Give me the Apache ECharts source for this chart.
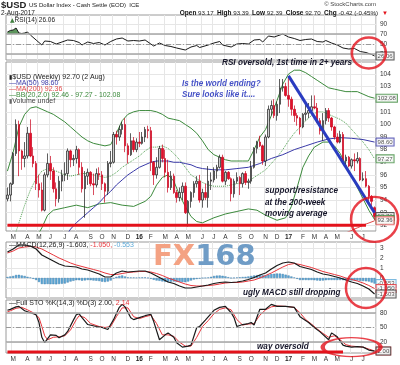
<!DOCTYPE html>
<html><head><meta charset="utf-8">
<script src="https://cdn.jsdelivr.net/npm/echarts@6/dist/echarts.min.js"></script>
<style>html,body{margin:0;padding:0;background:#fff}#c{width:400px;height:365px}</style>
</head><body><div id="c"></div>
<script>
// ---------- categories (weekly, Monday of each week) ----------
const categories = [];
(function(){ const s = Date.UTC(2015,1,16); for (let i=0;i<129;i++){ categories.push(new Date(s + i*7*86400000).toISOString().slice(0,10)); } })();

// ---------- weekly OHLC ($USD) ----------
const opens = [94.1,94.4,95.3,97.7,100.0,97.9,97.3,97.5,99.3,97.5,
96.9,95.3,94.8,93.2,96.0,96.9,96.3,94.9,94.1,95.5,
96.0,96.1,97.9,97.2,97.3,98.0,96.6,94.9,95.9,96.2,
95.3,95.2,96.1,96.0,95.3,94.7,96.9,97.0,99.2,99.0,
99.6,100.0,98.3,97.6,98.7,98.0,98.6,98.5,99.0,99.6,
99.5,97.0,96.0,96.6,98.1,97.3,96.2,95.0,95.9,94.6,
94.2,94.6,95.1,93.0,93.9,94.6,95.3,95.5,94.0,94.6,
94.2,95.5,95.6,96.3,96.6,97.4,95.5,96.2,95.7,94.5,
95.5,95.8,95.3,96.1,95.4,95.5,96.6,98.1,98.6,98.3,
97.1,99.0,101.2,101.5,100.7,101.6,102.9,103.0,102.3,102.0,
101.2,100.7,100.5,99.8,100.8,100.9,101.1,101.4,101.3,100.3,
99.5,100.3,101.1,100.5,99.8,99.0,98.6,99.2,97.1,97.4,
96.7,97.2,97.1,97.3,95.6,95.7,95.1,94.3,93.4];
const highs = [95.0,95.4,97.8,100.4,100.3,98.0,98.6,99.8,100.4,98.2,
97.1,96.0,95.4,96.2,97.7,97.5,96.6,95.4,95.9,96.4,
97.0,98.1,98.0,97.6,98.3,98.1,97.0,96.3,96.5,96.3,
96.1,96.5,96.6,96.3,95.4,97.1,97.9,99.4,99.5,99.9,
100.2,100.5,98.5,99.3,99.0,98.9,99.4,99.4,99.8,99.9,
99.8,97.1,97.4,98.3,98.4,98.0,97.2,96.3,96.1,94.8,
95.0,95.4,95.4,94.0,94.7,95.5,95.9,96.0,94.9,95.3,
96.7,96.2,96.6,96.8,97.6,97.6,96.3,96.3,95.8,95.7,
96.2,95.9,96.2,96.3,95.7,97.1,98.2,98.7,99.1,98.4,
99.2,101.5,101.9,102.0,101.8,103.6,103.6,103.3,103.8,102.2,
101.5,100.9,100.6,100.9,101.8,101.7,102.3,102.3,101.7,100.5,
100.9,101.3,101.3,100.6,99.9,99.3,99.5,99.4,97.6,97.5,
97.3,97.7,97.8,97.4,96.2,96.3,95.2,94.4,93.5];
const lows = [93.9,93.9,95.2,97.5,95.9,96.4,96.6,97.3,97.4,96.6,
94.8,94.2,93.1,93.1,95.8,95.6,94.6,93.5,93.8,94.7,
95.5,95.6,96.6,96.7,96.9,96.0,94.6,92.6,95.2,95.1,
94.4,95.0,95.6,94.8,93.8,94.4,96.6,96.9,98.4,98.7,
99.2,97.8,96.9,97.5,97.8,97.8,98.2,98.4,98.6,98.9,
96.3,95.2,95.7,96.5,97.0,95.8,94.6,94.8,94.5,93.8,
93.9,94.0,92.9,91.9,93.4,94.2,95.0,93.8,93.4,94.0,
93.4,94.8,95.4,95.7,96.5,95.4,95.2,95.6,93.9,94.2,
95.3,94.4,95.0,95.2,94.9,95.3,96.5,97.7,98.2,96.8,
96.7,98.9,100.7,100.5,100.3,100.9,102.6,102.2,101.4,100.7,
100.2,99.9,99.2,99.7,100.3,100.5,100.9,101.2,100.1,99.2,
98.7,100.0,100.2,99.5,98.8,98.5,98.5,96.9,96.8,96.6,
96.5,96.3,96.9,95.5,95.5,95.0,93.8,93.4,92.4];
const closes = [94.4,95.3,97.7,100.0,97.9,97.3,97.5,99.3,97.5,96.9,
95.3,94.8,93.2,96.0,96.9,96.3,94.9,94.1,95.5,96.0,
96.1,97.9,97.2,97.3,98.0,96.6,94.9,95.9,96.2,95.3,
95.2,96.1,96.0,95.3,94.7,96.9,97.0,99.2,99.0,99.6,
100.0,98.3,97.6,98.7,98.0,98.6,98.5,99.0,99.6,99.5,
97.0,96.0,96.6,98.1,97.3,96.2,95.0,95.9,94.6,94.2,
94.6,95.1,93.0,93.9,94.6,95.3,95.5,94.0,94.6,94.2,
95.5,95.6,96.3,96.6,97.4,95.5,96.2,95.7,94.5,95.5,
95.8,95.3,96.1,95.4,95.5,96.6,98.1,98.6,98.3,97.1,
99.0,101.2,101.5,100.7,101.6,102.9,103.0,102.3,102.0,101.2,
100.7,100.5,99.8,100.8,100.9,101.1,101.4,101.3,100.3,99.5,
100.3,101.1,100.5,99.8,99.0,98.6,99.2,97.1,97.4,96.7,
97.2,97.1,97.3,95.6,95.7,95.1,94.3,93.9,92.70];

// ---------- overlays: [week index, value] ----------
const bbUpper = [[0,96.3],[2,97.8],[4,99.8],[6,100.8],[8,101.3],[10,101.4],[12,101.2],[14,101.0],[16,100.8],[18,100.5],[20,100.2],[22,99.8],[24,99.4],[26,99.0],[28,98.7],[30,98.5],[32,98.4],[34,98.3],[36,98.4],[38,99.3],[40,100.3],[42,100.8],[44,101.0],[46,101.1],[48,101.1],[50,101.1],[52,101.0],[54,100.8],[56,100.5],[58,100.4],[60,100.3],[62,100.0],[64,99.7],[66,99.3],[68,98.7],[70,98.0],[72,97.6],[74,97.4],[76,97.2],[78,97.1],[80,97.1],[82,97.1],[84,97.1],[86,98.0],[88,99.0],[90,99.6],[92,100.7],[94,101.9],[96,103.2],[98,104.0],[100,104.3],[102,104.3],[104,104.1],[106,103.8],[108,103.5],[110,103.2],[112,102.9],[114,102.8],[116,102.7],[118,102.6],[120,102.6],[122,102.6],[124,102.4],[126,102.2],[128,102.08]];
const bbMiddle = [[0,89.5],[2,90.8],[4,92.2],[6,93.6],[8,94.8],[10,95.7],[12,96.3],[14,96.5],[16,96.4],[18,96.2],[20,96.0],[22,95.9],[24,96.0],[26,96.1],[28,96.1],[30,96.0],[32,95.9],[34,95.8],[36,95.9],[38,96.2],[40,96.6],[42,96.9],[44,97.2],[46,97.5],[48,97.9],[50,98.2],[52,98.2],[54,98.3],[56,98.1],[58,97.7],[60,97.2],[62,96.6],[64,96.0],[66,95.7],[68,95.4],[70,95.2],[72,95.1],[74,95.1],[76,95.1],[78,95.2],[80,95.3],[82,95.4],[84,95.5],[86,95.8],[88,96.1],[90,96.4],[92,96.9],[94,97.4],[96,98.0],[98,98.7],[100,99.3],[102,99.8],[104,100.3],[106,100.7],[108,101.0],[110,101.0],[112,100.8],[114,100.6],[116,100.4],[118,100.1],[120,99.6],[122,99.1],[124,98.6],[126,98.0],[128,97.27]];
const bbLower = [[0,86.3],[4,87.6],[8,89.9],[10,91.0],[12,91.8],[14,92.8],[16,93.2],[18,93.3],[20,93.4],[24,93.6],[28,93.4],[32,93.7],[36,93.8],[40,93.6],[44,93.5],[48,93.9],[50,94.3],[52,95.2],[54,95.8],[56,96.0],[58,95.5],[60,94.4],[62,93.5],[64,92.7],[66,92.3],[68,92.2],[72,92.6],[76,92.9],[80,93.1],[84,93.3],[87,93.2],[90,92.8],[94,92.4],[97,92.6],[99,93.5],[101,95.0],[103,96.6],[105,97.5],[107,98.2],[110,98.6],[112,98.6],[114,98.3],[116,97.7],[118,96.8],[120,95.9],[122,95.0],[124,94.1],[126,93.2],[128,92.46]];
const ma50 = [[18,90.5],[20,91.0],[22,91.7],[24,92.2],[26,92.6],[28,93.0],[30,93.4],[32,93.8],[34,94.3],[36,94.7],[38,95.2],[40,95.6],[42,96.0],[44,96.3],[46,96.6],[48,96.8],[50,97.0],[52,97.1],[54,97.1],[56,97.1],[58,97.0],[60,97.0],[62,96.9],[64,96.8],[66,96.6],[68,96.5],[72,96.4],[76,96.4],[80,96.5],[84,96.6],[88,96.9],[92,97.3],[96,97.6],[100,98.0],[104,98.3],[108,98.6],[112,98.85],[116,98.95],[120,98.9],[124,98.8],[128,98.60]];
const ma200 = [[110,90.6],[114,91.0],[118,91.4],[122,91.8],[125,92.1],[128,92.36]];
const trendLine = [[98,103.85],[128,93.0]];
const supportLevel = [[0,92.0],[125,92.0]];

// ---------- RSI(14) ----------
const rsi = [[0,74],[1,77],[2,78],[3,82],[4,72],[5,71],[6,72],[7,74],[8,68],[10,58],[12,48],[13,56],[15,55],[17,50],[19,54],[21,58],[23,57],[25,53],[26,48],[28,54],[30,51],[32,53],[34,48],[36,55],[38,60],[40,62],[42,56],[44,57],[46,56],[48,58],[50,50],[51,46],[53,52],[55,47],[57,45],[59,42],[62,38],[64,44],[66,47],[67,43],[70,48],[72,52],[74,55],[75,48],[78,44],[80,50],[82,51],[84,50],[86,58],[88,59],[89,54],[91,66],[93,64],[96,70],[98,64],[100,61],[102,57],[104,59],[106,60],[108,55],[110,54],[111,57],[113,52],[115,48],[117,42],[119,40],[121,41],[123,35],[125,33],[127,29],[128,26.06]];
const rsiOverbought = [[0,74],[1,77],[2,78],[3,82],[4,72],[5,71],[6,72],[7,74]];

// ---------- MACD(12,26,9) ----------
const macdLine = [[0,2.6],[2,2.9],[4,3.3],[6,3.3],[8,3.2],[10,2.9],[12,2.3],[14,2.0],[16,1.7],[18,1.4],[20,1.2],[22,1.15],[24,1.1],[26,0.9],[28,0.8],[30,0.6],[32,0.4],[34,0.1],[36,0.1],[38,0.5],[40,0.7],[42,0.6],[44,0.65],[46,0.7],[48,0.7],[50,0.5],[52,0.2],[54,-0.1],[56,-0.4],[58,-0.55],[60,-0.8],[62,-1.0],[64,-1.0],[66,-0.9],[68,-0.8],[70,-0.7],[72,-0.55],[74,-0.45],[76,-0.4],[78,-0.45],[80,-0.4],[82,-0.3],[84,-0.15],[86,0.05],[88,0.3],[90,0.5],[92,0.9],[94,1.25],[96,1.5],[98,1.6],[100,1.5],[102,1.15],[104,1.0],[106,0.85],[108,0.6],[110,0.4],[112,0.3],[114,0.15],[116,0.0],[118,-0.2],[120,-0.4],[122,-0.55],[124,-0.8],[126,-1.1],[128,-1.603]];
const signalLine = [[0,2.5],[2,2.7],[4,3.0],[6,3.1],[8,3.15],[10,3.1],[12,2.9],[14,2.6],[16,2.3],[18,2.0],[20,1.75],[22,1.5],[24,1.3],[26,1.15],[28,1.0],[30,0.85],[32,0.7],[34,0.5],[36,0.35],[38,0.35],[40,0.45],[42,0.55],[44,0.6],[46,0.65],[48,0.65],[50,0.6],[52,0.45],[54,0.25],[56,0.0],[58,-0.2],[60,-0.4],[62,-0.6],[64,-0.75],[66,-0.8],[68,-0.8],[70,-0.75],[72,-0.7],[74,-0.6],[76,-0.5],[78,-0.45],[80,-0.45],[82,-0.4],[84,-0.3],[86,-0.2],[88,0.0],[90,0.25],[92,0.5],[94,0.8],[96,1.1],[98,1.35],[100,1.45],[102,1.35],[104,1.2],[106,1.05],[108,0.85],[110,0.65],[112,0.5],[114,0.35],[116,0.2],[118,0.0],[120,-0.15],[122,-0.3],[124,-0.5],[126,-0.75],[128,-1.05]];
const macdHist = [0.10,0.15,0.20,0.30,0.32,0.25,0.20,0.12,0.05,-0.08,
-0.20,-0.40,-0.60,-0.62,-0.60,-0.62,-0.62,-0.63,-0.60,-0.58,
-0.55,-0.45,-0.35,-0.28,-0.22,-0.22,-0.26,-0.24,-0.20,-0.22,
-0.25,-0.27,-0.30,-0.36,-0.40,-0.35,-0.25,-0.05,0.12,0.20,
0.25,0.15,0.06,0.05,0.05,0.04,0.05,0.06,0.06,0.02,
-0.08,-0.18,-0.25,-0.28,-0.34,-0.38,-0.40,-0.36,-0.35,-0.38,
-0.40,-0.40,-0.42,-0.35,-0.25,-0.15,-0.10,-0.06,0.00,0.02,
0.05,0.12,0.20,0.24,0.25,0.22,0.16,0.08,0.00,0.02,
0.05,0.07,0.10,0.12,0.15,0.20,0.25,0.28,0.30,0.27,
0.25,0.33,0.40,0.42,0.45,0.44,0.40,0.33,0.25,0.15,
0.05,-0.08,-0.20,-0.20,-0.20,-0.21,-0.20,-0.22,-0.25,-0.26,
-0.25,-0.22,-0.20,-0.20,-0.20,-0.20,-0.20,-0.21,-0.20,-0.23,
-0.25,-0.25,-0.25,-0.28,-0.30,-0.33,-0.35,-0.45,-0.553];

// ---------- Full STO %K(14,3) %D(3) ----------
const stoK = [[0,85],[1,87],[3,92],[4,93],[6,84],[8,80],[10,76],[11,60],[12,30],[13,19],[15,35],[17,34],[18,29],[20,35],[21,42],[23,65],[24,76],[25,78],[26,70],[28,56],[31,52],[33,50],[35,46],[37,66],[39,91],[40,97],[41,92],[43,70],[44,66],[46,70],[48,74],[50,77],[51,62],[53,25],[55,35],[56,39],[58,30],[59,19],[61,10],[63,12],[64,14],[66,50],[67,52],[69,65],[72,85],[74,91],[76,93],[78,80],[79,70],[80,52],[82,56],[84,58],[85,60],[86,55],[88,87],[90,87],[92,97],[94,93],[97,93],[100,91],[102,72],[105,60],[107,50],[109,41],[112,25],[113,39],[115,31],[117,14],[118,12],[120,10],[122,11],[124,10],[126,4],[128,2.00]];
const stoD = [[0,82],[1,84],[3,89],[5,91],[7,86],[9,80],[11,70],[12,52],[13,33],[14,25],[16,30],[18,31],[20,33],[22,45],[24,66],[25,74],[27,70],[29,58],[32,52],[34,50],[36,52],[38,72],[40,90],[42,90],[44,72],[46,68],[48,72],[50,75],[52,58],[54,35],[56,35],[58,32],[60,20],[62,12],[64,12],[66,30],[68,52],[70,64],[72,78],[74,87],[76,90],[78,86],[80,66],[82,55],[84,57],[86,58],[88,75],[90,86],[92,92],[94,94],[97,93],[100,91],[102,80],[104,66],[106,57],[108,47],[110,38],[112,30],[114,33],[116,25],[118,15],[120,12],[122,11],[124,10],[126,6],[128,2.14]];
const stoFloor = [[0,0],[117,0]];

// ---------- tick labels ----------
const rsiTicks = [30,50,70,90];
const priceTicks = [92,93,94,95,96,97,98,99,100,101,102,103,104];
const macdTicks = [0,1,2,3];
const macdGrid = [-1,0,1,2,3];
const stoTicks = [20,50,80];
const monthLetters = ['J','F','M','A','M','J','J','A','S','O','N','D'];

// ---------- annotation anchors (week index, value) ----------
const ringRsi = [126,32], ringPrice = [128,92.47], ringMacd = [125,-1.0], ringSto = [120,10];

const last = a => a[a.length-1][1];
const F = 'Liberation Sans';
const GRID = '#e6e6e6';

function isMonthStart(i){ return i>0 && categories[i].slice(5,7) !== categories[i-1].slice(5,7); }
function monthLabel(v){ const m = +v.slice(5,7); return m===1 ? '{y|'+v.slice(2,4)+'}' : monthLetters[m-1]; }
function xAx(gi, show){ return { type:'category', gridIndex:gi, data:categories, boundaryGap:true,
  axisLine:{show:false}, axisTick:{show:false},
  axisLabel:{show:show, interval:(i)=>isMonthStart(i), formatter:monthLabel, fontSize:6.5, fontFamily:F, color:'#333', margin:3,
    rich:{y:{fontWeight:'bold', fontSize:6.5, fontFamily:F, color:'#222'}}},
  splitLine:{show:true, interval:(i)=>isMonthStart(i), lineStyle:{color:GRID, width:1}} }; }
function yAx(gi, min, max, labels, grid){ return { type:'value', gridIndex:gi, position:'right', min:min, max:max, scale:true,
  axisLine:{show:false}, axisTick:{show:false, customValues:grid||labels},
  axisLabel:{customValues:labels, fontSize:6.5, fontFamily:F, color:'#333', margin:4},
  splitLine:{show:true, lineStyle:{color:GRID, width:1}} }; }
function ln(gi, data, color, width, type, extra){ return Object.assign({type:'line', xAxisIndex:gi, yAxisIndex:gi, data:data, symbol:'none', showSymbol:false, silent:true, z:3,
  lineStyle:{color:color, width:width, type:type||'solid'}, itemStyle:{color:color}}, extra||{}); }
function boxes(gi, items){ return {type:'scatter', xAxisIndex:gi, yAxisIndex:gi, symbolSize:0, silent:true, z:20, clip:false,
  labelLayout:{moveOverlap:'shiftY'},
  data: items.map(it=>({value:[128, it.v], label:{show:true, position:'right', distance:2, formatter:it.t, fontSize:6, fontFamily:F, color:'#222',
    backgroundColor:'#fff', borderColor:it.c, borderWidth:1, padding:[1,1,0,1]}}))}; }
function ring(gi, p, w, h){ return {type:'scatter', xAxisIndex:gi, yAxisIndex:gi, silent:true, clip:false, z:30, symbol:'circle', symbolSize:[w,h], data:[p],
  itemStyle:{color:'rgba(0,0,0,0)', borderColor:'#e3121b', borderWidth:2.5}}; }
function T(x, y, text, o){ o = o||{}; return { type:'text', x:x, y:y, z:o.z||50, scaleX:o.sx||1,
  style:{ text:text, fill:o.c||'#222', fontSize:o.fs||6.5, fontFamily:o.ff||F, fontWeight:o.fw||'normal', fontStyle:o.fi||'normal', align:o.al||'left', verticalAlign:'middle', rich:o.rich||{} } }; }

const sharpLine = {type:'solid'};
const refLines = (hi, mid, lo) => ({silent:true, symbol:'none', label:{show:false}, data:[
  {yAxis:hi, lineStyle:{color:'#a6a6a6', width:1.5, type:'solid'}},
  {yAxis:mid, lineStyle:{color:'#999', width:1, type:[5,2,1,2]}},
  {yAxis:lo, lineStyle:{color:'#a6a6a6', width:1.5, type:'solid'}}]});

const G = (top, height) => ({left:6, right:24, top:top, height:height, show:true, borderColor:'#9a9a9a', borderWidth:1, backgroundColor:'#fff', outerBoundsMode:'none'});

const chart = echarts.init(document.getElementById('c'), null, {renderer:'canvas'});
const annotFont = {fs:9.5, fw:'bold', fi:'italic', c:'#16162a', sx:0.86};
const blueFont = {fs:9, fw:'bold', fi:'italic', c:'#4652c6', sx:0.9};
const lg = (t,c) => ({fs:7, c:c||'#222'});

chart.setOption({
  animation:false, backgroundColor:'#fff',
  grid:[G(15,45), G(62,169), G(242,56), G(300,53)],
  xAxis:[xAx(0,false), xAx(1,true), xAx(2,false), xAx(3,true)],
  yAxis:[yAx(0,18,108,rsiTicks), yAx(1,91.55,104.95,priceTicks), yAx(2,-2,3.6,macdTicks,macdGrid), yAx(3,-2,106,stoTicks)],
  series:[
    // RSI
    ln(0, rsiOverbought, '#3f7f3f', 0, 'solid', {areaStyle:{origin:70, color:'#4a8a4a', opacity:0.9}, z:2}),
    ln(0, rsi, '#1a1a1a', 1, 'solid', {markLine:refLines(70,50,30)}),
    boxes(0, [{v:last(rsi), t:last(rsi).toFixed(2), c:'#333'}]),
    ring(0, ringRsi, 34, 31),
    // Price
    {type:'candlestick', xAxisIndex:1, yAxisIndex:1, silent:true, z:4, barWidth:2,
      data: closes.map((c,i)=>[opens[i], c, lows[i], highs[i]]),
      itemStyle:{color:'#cfcfcf', color0:'#e3102b', borderColor:'#1a1a1a', borderColor0:'#c8001a', borderWidth:0.7}},
    ln(1, bbUpper, '#3c8a3c', 1),
    ln(1, bbLower, '#3c8a3c', 1),
    ln(1, bbMiddle, '#52a052', 1, 'dotted'),
    ln(1, ma50, '#3a3aa8', 1),
    ln(1, ma200, '#e04848', 1),
    ln(1, trendLine, '#2a3cc0', 3, 'solid', {z:6}),
    ln(1, supportLevel, '#e3121b', 3, 'solid', {z:6, clip:false}),
    boxes(1, [
      {v:last(bbUpper), t:last(bbUpper).toFixed(2), c:'#3c8a3c'},
      {v:last(ma50), t:last(ma50).toFixed(2), c:'#3a3aa8'},
      {v:last(bbMiddle), t:last(bbMiddle).toFixed(2), c:'#3c8a3c'},
      {v:closes[closes.length-1], t:closes[closes.length-1].toFixed(2), c:'#333'},
      {v:last(bbLower), t:last(bbLower).toFixed(2), c:'#3c8a3c'},
      {v:last(ma200), t:last(ma200).toFixed(2), c:'#e04848'}]),
    ring(1, ringPrice, 47, 45),
    // MACD
    {type:'bar', xAxisIndex:2, yAxisIndex:2, data:macdHist, silent:true, barWidth:2.2, z:2,
      itemStyle:{color:'#5eaad8', borderColor:'#2f74a6', borderWidth:0.4}},
    ln(2, signalLine, '#e8363c', 1),
    ln(2, macdLine, '#1a1a1a', 1.2),
    boxes(2, [
      {v:macdHist[macdHist.length-1], t:macdHist[macdHist.length-1].toFixed(3), c:'#5eaad8'},
      {v:last(signalLine), t:last(signalLine).toFixed(3), c:'#e8363c'},
      {v:last(macdLine), t:last(macdLine).toFixed(3), c:'#333'}]),
    ring(2, ringMacd, 40, 40),
    // STO
    ln(3, stoD, '#e8363c', 1, 'solid', {markLine:refLines(80,50,20)}),
    ln(3, stoK, '#1a1a1a', 1.2),
    ln(3, stoFloor, '#e3121b', 3, 'solid', {z:6, clip:false}),
    boxes(3, [{v:last(stoD), t:last(stoD).toFixed(2), c:'#e8363c'}, {v:last(stoK), t:last(stoK).toFixed(2), c:'#333'}]),
    ring(3, ringSto, 58, 19)
  ],
  graphic:[
    // header
    T(1, 5, '$USD', {fs:9.5, fw:'bold'}),
    T(29, 5, 'US Dollar Index - Cash Settle (EOD)  ICE', {fs:6}),
    T(376, 4, '© StockCharts.com', {fs:6, al:'right', c:'#444'}),
    T(1, 13, '2-Aug-2017', {fs:6.5}),
    T(378, 13, '{b|Open} 93.17  {b|High} 93.39  {b|Low} 92.39  {b|Close} 92.70  {b|Chg} -0.42 (-0.45%)', {fs:6.2, al:'right',
      rich:{b:{fontWeight:'bold', fontSize:6.5, fontFamily:F, fill:'#111'}}}),
    T(382, 13, '▼', {fs:6, c:'#e3121b'}),
    // legends
    T(10, 20, '{g|▲}RSI(14) ' + last(rsi).toFixed(2), {fs:6.5, rich:{g:{fill:'#3f7f3f', fontSize:6, fontFamily:'DejaVu Sans'}}}),
    T(9, 77, '{k|▮}$USD (Weekly) ' + closes[closes.length-1].toFixed(2) + ' (2 Aug)', {fs:7, rich:{k:{fill:'#222', fontSize:6, fontFamily:'DejaVu Sans'}}}),
    T(9, 83, '—MA(50) ' + last(ma50).toFixed(2), {fs:7, c:'#3a3aa8'}),
    T(9, 89, '—MA(200) ' + last(ma200).toFixed(2), {fs:7, c:'#e04848'}),
    T(9, 95, '—BB(20,2.0) ' + last(bbLower).toFixed(2) + ' - ' + last(bbMiddle).toFixed(2) + ' - ' + last(bbUpper).toFixed(2), {fs:7, c:'#3c8a3c'}),
    T(9, 101, '{k|▮}Volume undef', {fs:7, c:'#444', rich:{k:{fill:'#666', fontSize:6, fontFamily:'DejaVu Sans'}}}),
    T(9, 245, '—MACD(12,26,9) ' + last(macdLine).toFixed(3) + ', {r|' + last(signalLine).toFixed(3) + ',} {b|' + macdHist[macdHist.length-1].toFixed(3) + '}', {fs:7,
      rich:{r:{fill:'#e8363c', fontSize:7, fontFamily:F}, b:{fill:'#5eaad8', fontSize:7, fontFamily:F}}}),
    T(9, 303, '—Full STO %K(14,3) %D(3) ' + last(stoK).toFixed(2) + ', {r|' + last(stoD).toFixed(2) + '}', {fs:7,
      rich:{r:{fill:'#e8363c', fontSize:7, fontFamily:F}}}),
    // watermark
    T(153, 257, '{a|FX}{b|168}', {fs:29, fw:'bold', ff:'DejaVu Sans', z:1,
      rich:{a:{fill:'#f4a283', fontSize:29, fontWeight:'bold', fontFamily:'DejaVu Sans'}, b:{fill:'#6f9cc6', fontSize:29, fontWeight:'bold', fontFamily:'DejaVu Sans'}}}),
    // annotations
    T(222, 62, 'RSI oversold, 1st time in 2+ years', annotFont),
    T(182, 84, 'Is the world ending?', blueFont),
    T(182, 95, 'Sure looks like it....', blueFont),
    T(265, 190, 'support/resistance', annotFont),
    T(265, 202, 'at the 200-week', annotFont),
    T(265, 213, 'moving average', annotFont),
    T(243, 292, 'ugly MACD still dropping', annotFont),
    T(257, 346, 'way oversold', annotFont)
  ]
});
</script></body></html>
